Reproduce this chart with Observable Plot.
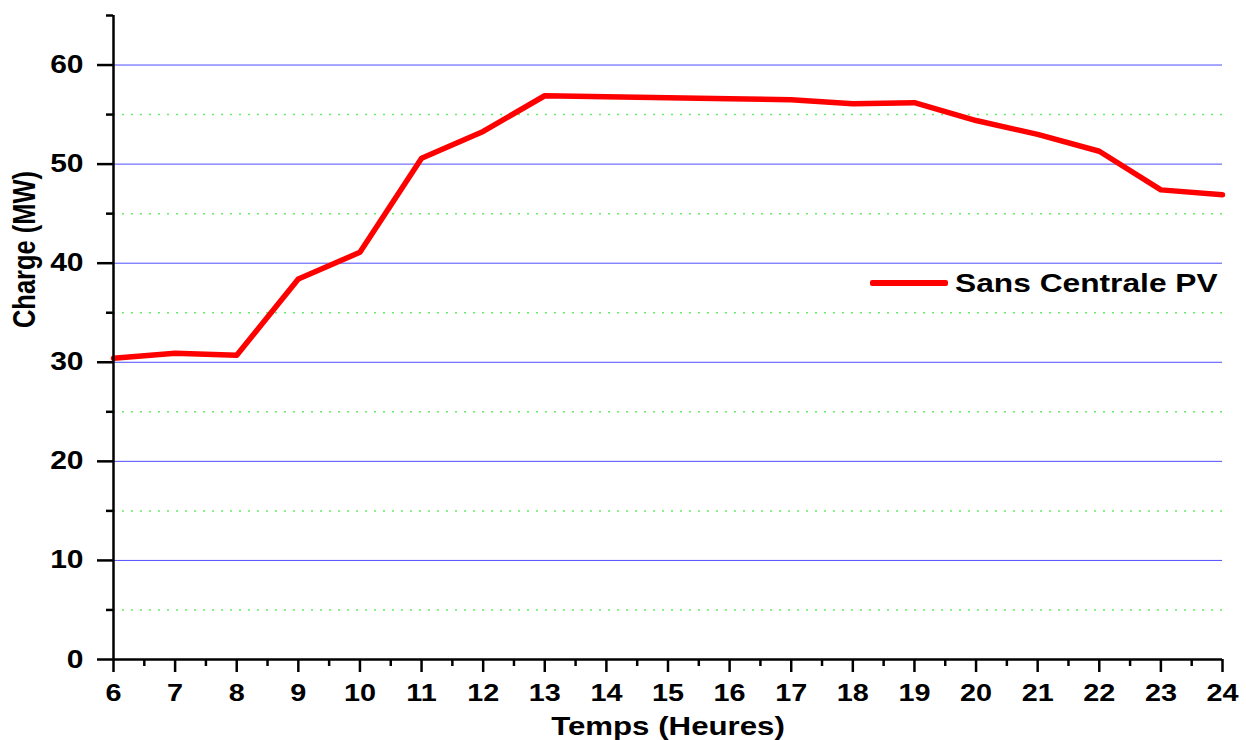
<!DOCTYPE html>
<html>
<head>
<meta charset="utf-8">
<script src="https://cdn.jsdelivr.net/npm/d3@7"></script>
<script src="https://cdn.jsdelivr.net/npm/@observablehq/plot@0.6"></script>
<style>
  body { margin: 0; background: #fff; }
  #wrap { position: relative; width: 1246px; height: 740px; font-family: "Liberation Sans", Arial, sans-serif; }
  #legend-line { position: absolute; left: 870px; top: 280px; width: 78px; height: 5.5px; background: #ff0000; border-radius: 2px; }
  #legend-text { position: absolute; left: 955px; top: 270px; height: 26px; line-height: 26px; font-size: 26px; font-weight: bold; color: #000; white-space: nowrap; transform: scaleX(1.22); transform-origin: left center; }
</style>
</head>
<body>
<div id="wrap"></div>
<script>
// ---- data ----
const hours = [6, 7, 8, 9, 10, 11, 12, 13, 14, 15, 16, 17, 18, 19, 20, 21, 22, 23, 24];
const charge = [30.4, 30.9, 30.7, 38.4, 41.1, 50.6, 53.3, 56.9, 56.8, 56.7, 56.6, 56.5, 56.1, 56.2, 54.4, 53.0, 51.3, 47.4, 46.9];
const seriesName = "Sans Centrale PV";
const xLabel = "Temps (Heures)";
const yLabel = "Charge (MW)";
const xTicks = [6, 7, 8, 9, 10, 11, 12, 13, 14, 15, 16, 17, 18, 19, 20, 21, 22, 23, 24];
const xMinorTicks = [6.5, 7.5, 8.5, 9.5, 10.5, 11.5, 12.5, 13.5, 14.5, 15.5, 16.5, 17.5, 18.5, 19.5, 20.5, 21.5, 22.5, 23.5];
const yTicks = [0, 10, 20, 30, 40, 50, 60];
const yMinorTicks = [5, 15, 25, 35, 45, 55, 65];
const majorGrid = [10, 20, 30, 40, 50, 60];
const minorGrid = [5, 15, 25, 35, 45, 55];
const xDomain = [6, 24];
const yDomain = [0, 65];

const data = hours.map((h, i) => ({hour: h, charge: charge[i]}));

const chart = Plot.plot({
  width: 1246,
  height: 740,
  marginLeft: 113,
  marginRight: 24,
  marginTop: 15,
  marginBottom: 81,
  x: {domain: xDomain},
  y: {domain: yDomain},
  style: {fontFamily: '"Liberation Sans", Arial, sans-serif', background: "white", overflow: "visible", color: "black"},
  marks: [
    Plot.ruleY(minorGrid, {stroke: "#66ee66", strokeWidth: 1.5, strokeDasharray: "2,7"}),
    Plot.ruleY(majorGrid, {stroke: "#4d4dff", strokeWidth: 1}),
    Plot.line(data, {x: "hour", y: "charge", stroke: "#ff0000", strokeWidth: 5.5, strokeLinejoin: "round"}),
    Plot.axisX({ticks: xTicks, tickSize: 13, tickPadding: 11, strokeWidth: 2.5, fontSize: 24, fontWeight: "bold", tickFormat: d => String(d), label: null, className: "sx120"}),
    Plot.axisX({ticks: xMinorTicks, tickSize: 7, strokeWidth: 2.5, text: null, label: null}),
    Plot.axisY({ticks: yTicks, tickSize: 16, tickPadding: 14, strokeWidth: 2.5, fontSize: 25, fontWeight: "bold", tickFormat: d => String(d), label: null, className: "sx120"}),
    Plot.axisY({ticks: yMinorTicks, tickSize: 7, strokeWidth: 2.5, text: null, label: null}),
    Plot.ruleX([xDomain[0]], {y1: yDomain[0], y2: yDomain[1], stroke: "black", strokeWidth: 2.5}),
    Plot.ruleY([yDomain[0]], {x1: xDomain[0], x2: xDomain[1], stroke: "black", strokeWidth: 2.5}),
    Plot.text([xLabel], {frameAnchor: "bottom", textAnchor: "middle", lineAnchor: "top", dy: 58, fontSize: 25, fontWeight: "bold", fill: "black", className: "sx125"}),
    Plot.text([yLabel], {frameAnchor: "left", textAnchor: "middle", lineAnchor: "middle", rotate: -90, dx: -88.5, dy: -88, fontSize: 25.5, fontWeight: "bold", fill: "black", className: "ylab"})
  ]
});

const wrap = document.getElementById("wrap");
wrap.appendChild(chart);

// horizontal stretch of the bold text, as in the reference
function stretch(sel, s) {
  d3.select(chart).selectAll(sel).each(function() {
    const t = this.getAttribute("transform");
    if (t) {
      this.setAttribute("transform", t + ` scale(${s},1)`);
    } else {
      const anchor = getComputedStyle(this).textAnchor;
      const origin = anchor === "end" ? "right center" : anchor === "start" ? "left center" : "center center";
      this.style.transformBox = "fill-box";
      this.style.transformOrigin = origin;
      this.style.transform = `scaleX(${s})`;
    }
  });
}
stretch(".sx120 text", 1.2);
stretch(".sx125 text", 1.25);
d3.select(chart).selectAll(".ylab text").each(function() {
  const t = this.getAttribute("transform");
  if (t) this.setAttribute("transform", t + " scale(1,1.2)");
});

const legLine = document.createElement("div");
legLine.id = "legend-line";
const legText = document.createElement("div");
legText.id = "legend-text";
legText.textContent = seriesName;
wrap.appendChild(legLine);
wrap.appendChild(legText);
</script>
</body>
</html>
